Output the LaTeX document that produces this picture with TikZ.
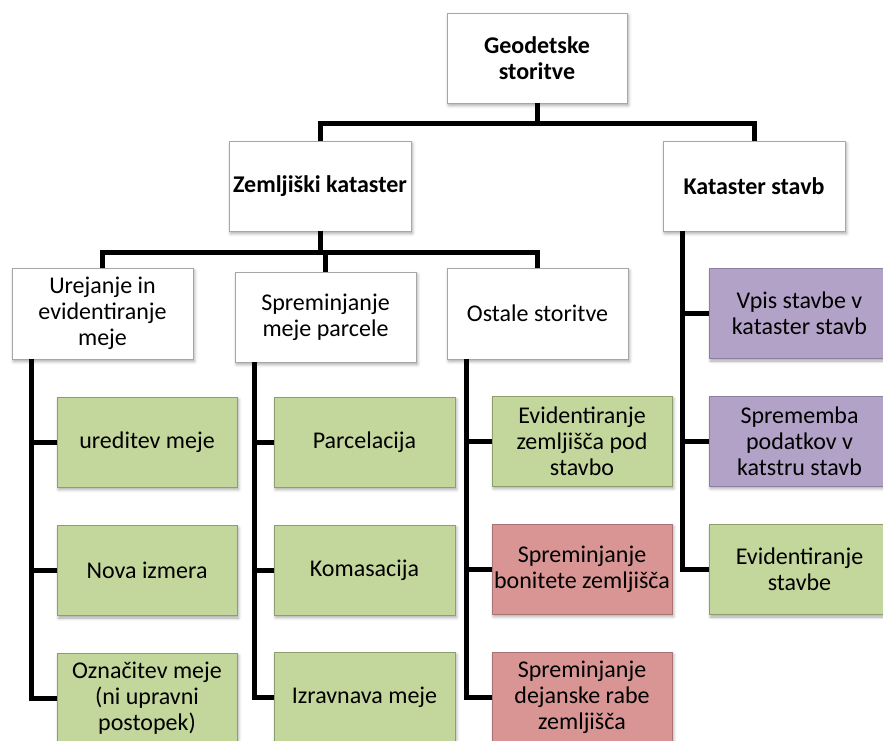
\documentclass[tikz,border=0pt]{standalone}
\usepackage{fontspec}
\setmainfont{Carlito}
\usetikzlibrary{shadows.blur,calc}
\definecolor{gfill}{HTML}{C3D69B}
\definecolor{gline}{HTML}{8E9D6C}
\definecolor{pfill}{HTML}{B3A2C7}
\definecolor{pline}{HTML}{8C7FA0}
\definecolor{rfill}{HTML}{D99594}
\definecolor{rline}{HTML}{A87372}
\definecolor{wline}{HTML}{A6A6A6}
\tikzset{
  box/.style={rectangle, minimum width=181pt, minimum height=90pt, inner sep=0pt,
    align=center, font=\fontsize{24}{26}\selectfont, line width=0.9pt,
    blur shadow={shadow xshift=1.5pt, shadow yshift=-2.5pt, shadow blur radius=3pt, shadow opacity=35}},
  whitebox/.style={box, fill=white, draw=wline},
  boldbox/.style={whitebox, font=\fontsize{24}{26}\selectfont\bfseries},
  greenbox/.style={box, fill=gfill, draw=gline},
  purplebox/.style={box, fill=pfill, draw=pline},
  redbox/.style={box, fill=rfill, draw=rline},
  conn/.style={line width=5pt, black}
}
\begin{document}
\begin{tikzpicture}[x=1pt,y=-1pt]
\useasboundingbox (0,0) rectangle (883,740);
% level 0
\node[boldbox, minimum width=180pt] (root) at (537,58) {Geodetske\\storitve};
% level 1
\node[boldbox, minimum width=182pt] (zk) at (320,186) {Zemljiški kataster};
\node[boldbox, minimum width=182pt] (ks) at (754,186) {Kataster stavb};
% level 2
\node[whitebox, minimum height=91pt] (ur) at (102.5,313.5) {Urejanje in\\evidentiranje\\meje};
\node[whitebox] (sp) at (325.5,317) {Spreminjanje\\meje parcele};
\node[whitebox, minimum height=91pt] (os) at (537.5,313.5) {Ostale storitve};
% ur children
\node[greenbox, minimum width=180pt] (u1) at (147,442) {ureditev meje};
\node[greenbox, minimum width=180pt] (u2) at (147,570.5) {Nova izmera};
\node[greenbox, minimum width=180pt] (u3) at (147,698) {Označitev meje\\(ni upravni\\postopek)};
% sp children
\node[greenbox] (s1) at (364.5,442) {Parcelacija};
\node[greenbox] (s2) at (364.5,570) {Komasacija};
\node[greenbox] (s3) at (364.5,697) {Izravnava meje};
% os children
\node[greenbox, minimum width=180pt] (o1) at (582,441) {Evidentiranje\\zemljišča pod\\stavbo};
\node[redbox, minimum width=180pt] (o2) at (582,569) {Spreminjanje\\bonitete zemljišča};
\node[redbox, minimum width=180pt] (o3) at (582,697) {Spreminjanje\\dejanske rabe\\zemljišča};
% ks children
\node[purplebox] (k1) at (799.5,313.5) {Vpis stavbe v\\kataster stavb};
\node[purplebox] (k2) at (799.5,441) {Sprememba\\podatkov v\\katstru stavb};
\node[greenbox] (k3) at (799.5,569.5) {Evidentiranje\\stavbe};
% connectors level 0-1
\coordinate (b1) at (537,123);
\draw[conn] (root.south) -- (b1);
\draw[conn] (zk.north) |- (b1) -| (ks.north);
% connectors level 1-2
\coordinate (b2) at (320,252);
\draw[conn] (zk.south) -- (b2);
\draw[conn] (ur.north) |- (b2) -| (os.north);
\draw[conn] (sp.north) -- (sp.north |- b2);
% hanging children
\foreach \p/\c in {ur/u1,ur/u2,ur/u3,sp/s1,sp/s2,sp/s3,os/o1,os/o2,os/o3,ks/k1,ks/k2,ks/k3}{
  \draw[conn] ($(\p.south west)+(19.5,0)$) |- (\c.west);
}
\end{tikzpicture}
\end{document}
